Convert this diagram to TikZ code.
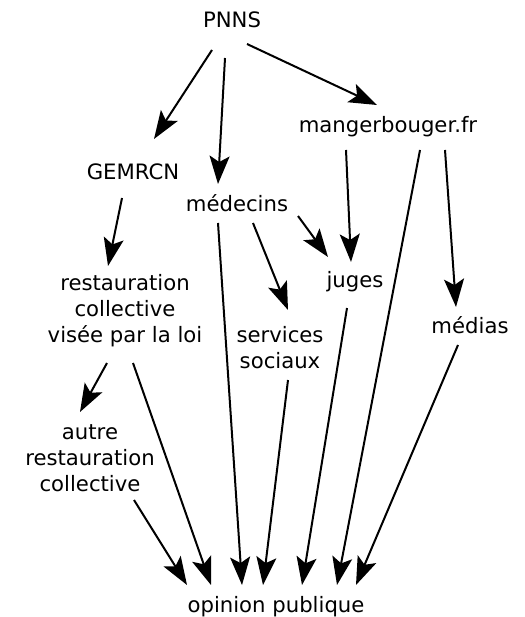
\documentclass[tikz,border=0pt]{standalone}
\usepackage{fontspec}
\setmainfont{DejaVu Sans}
\usetikzlibrary{arrows.meta,calc}
\begin{document}
\begin{tikzpicture}[x=1pt,y=-1pt,
  lbl/.style={inner sep=0pt,font=\fontsize{21.2}{26}\selectfont,align=center},
  e/.style={line width=2pt,-{Stealth[length=28pt,width=20pt,inset=6pt]}}]
\useasboundingbox (0,0) rectangle (524,617);
\node[lbl,anchor=base] (P) at (232,28) {PNNS};
\node[lbl,anchor=base] (M) at (388,133) {mangerbouger.fr};
\node[lbl,anchor=base] (G) at (133,180) {GEMRCN};
\node[lbl,anchor=base] (Me) at (237,212) {médecins};
\node[lbl,anchor=base] (J) at (355,287) {juges};
\node[lbl,anchor=base] (Md) at (470,333) {médias};
\node[lbl,anchor=base] (O) at (276,612) {opinion publique};
\node[lbl] (R) at (125,311) {restauration\\collective\\visée par la loi};
\node[lbl] (S) at (280,348) {services\\sociaux};
\node[lbl] (A) at (90,458) {autre\\restauration\\collective};
\draw[e] ($(P.base)+(-20,22)$) -- ($(G.base)+(21,-41)$);
\draw[e] ($(P.base)+(-7,30)$) -- ($(Me.base)+(-19,-28)$);
\draw[e] ($(P.base)+(15,16)$) -- ($(M.base)+(-11,-28)$);
\draw[e] ($(G.base)+(-11,18)$) -- ($(R)+(-17,-45)$);
\draw[e] ($(Me.base)+(61,4)$) -- ($(J.base)+(-27,-30)$);
\draw[e] ($(Me.base)+(16,11)$) -- ($(S)+(8,-38)$);
\draw[e] ($(Me.base)+(-19,11)$) -- ($(O.base)+(-34,-27)$);
\draw[e] ($(M.base)+(-42,17)$) -- ($(J.base)+(-4,-25)$);
\draw[e] ($(M.base)+(32,17)$) -- ($(O.base)+(61,-27)$);
\draw[e] ($(M.base)+(57,17)$) -- ($(Md.base)+(-14,-26)$);
\draw[e] ($(J.base)+(-8,21)$) -- ($(O.base)+(26,-27)$);
\draw[e] ($(Md.base)+(-12,12)$) -- ($(O.base)+(80,-27)$);
\draw[e] ($(S)+(8,32)$) -- ($(O.base)+(-13,-27)$);
\draw[e] ($(R)+(-18,52)$) -- ($(A)+(-10,-46)$);
\draw[e] ($(R)+(8,52)$) -- ($(O.base)+(-65,-27)$);
\draw[e] ($(A)+(44,42)$) -- ($(O.base)+(-89,-27)$);
\end{tikzpicture}
\end{document}
